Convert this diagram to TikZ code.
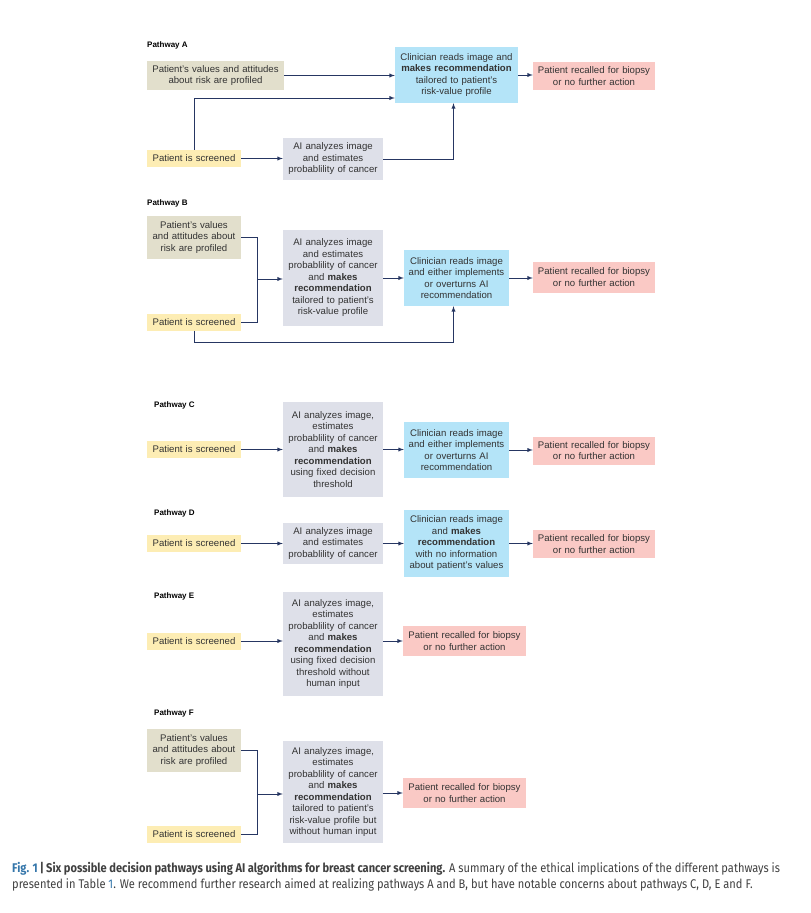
\documentclass[tikz,border=0pt]{standalone}
\usepackage{fontspec}
\setmainfont{Liberation Sans}
\newfontfamily\capfont[FakeStretch=0.88]{Fira Sans}
\usetikzlibrary{calc}
\definecolor{profilecol}{RGB}{226,223,204}
\definecolor{screencol}{RGB}{253,237,180}
\definecolor{aicol}{RGB}{222,224,233}
\definecolor{cliniccol}{RGB}{180,228,248}
\definecolor{recallcol}{RGB}{250,201,197}
\definecolor{arrowcol}{RGB}{38,54,98}
\definecolor{figblue}{RGB}{52,118,170}
\tikzset{
  box/.style={inner sep=0pt, align=center, text=black!80,
    font=\fontsize{9.6}{11.5}\selectfont},
  profile/.style 2 args={box, fill=profilecol, text width=#1, minimum height=#2},
  screen/.style 2 args={box, fill=screencol, text width=#1, minimum height=#2},
  aibox/.style 2 args={box, fill=aicol, text width=#1, minimum height=#2},
  clinic/.style 2 args={box, fill=cliniccol, text width=#1, minimum height=#2},
  recall/.style 2 args={box, fill=recallcol, text width=#1, minimum height=#2},
  lab/.style={anchor=west, inner sep=0pt, font=\fontsize{8}{9}\selectfont\bfseries},
  flow/.style={-latex, arrowcol, line width=0.85pt},
  link/.style={arrowcol, line width=0.85pt}
}
\begin{document}
\begin{tikzpicture}[x=1pt, y=-1pt]
  \fill[white] (0,0) rectangle (811,913);
  \useasboundingbox (0,0) rectangle (811,913);

  % Pathway A
  \node[lab] (labA) at (147,45) {Pathway A};
  \node[profile={137pt}{29pt}] (valA) at (215.5,75.5) {Patient's values and attitudes\\about risk are profiled};
  \node[clinic={123pt}{56pt}] (cliA) at (456.5,75) {Clinician reads image and\\\textbf{makes recommendation}\\tailored to patient's\\risk-value profile};
  \node[recall={122pt}{28pt}] (recA) at (594,76) {Patient recalled for biopsy\\or no further action};
  \node[screen={94pt}{17pt}] (scrA) at (194,158.5) {Patient is screened};
  \node[aibox={100pt}{42pt}] (aiA) at (333,159) {AI analyzes image\\and estimates\\probablility of cancer};
  \draw[flow] (valA.east) -- (valA.east -| cliA.west);
  \draw[flow] (scrA.north) |- ($(cliA.west)+(0,23)$);
  \draw[flow] (scrA.east) -- (scrA.east -| aiA.west);
  \draw[flow] (aiA.east) -| ([xshift=-3pt]cliA.south);
  \draw[flow] (cliA.east) -- (cliA.east -| recA.west);

  % Pathway B
  \node[lab] (labB) at (147,203) {Pathway B};
  \node[profile={94pt}{43pt}] (valB) at (194,237.5) {Patient's values\\and attitudes about\\risk are profiled};
  \node[aibox={100pt}{96pt}] (aiB) at (333,278) {AI analyzes image\\and estimates\\probablility of cancer\\and \textbf{makes}\\\textbf{recommendation}\\tailored to patient's\\risk-value profile};
  \node[clinic={105pt}{56pt}] (cliB) at (456.5,278) {Clinician reads image\\and either implements\\or overturns AI\\recommendation};
  \node[recall={122pt}{31pt}] (recB) at (594,277) {Patient recalled for biopsy\\or no further action};
  \node[screen={94pt}{17pt}] (scrB) at (194,322) {Patient is screened};
  \coordinate (mrgB) at (257,279);
  \draw[link] (valB.east) -| (mrgB);
  \draw[link] (scrB.east) -| (mrgB);
  \draw[flow] (mrgB) -- (mrgB -| aiB.west);
  \draw[flow] (aiB.east) -- (aiB.east -| cliB.west);
  \draw[flow] (cliB.east) -- (cliB.east -| recB.west);
  \draw[flow] (scrB.south) -- ++(0,12) -| ([xshift=-3pt]cliB.south);

  % Pathway C
  \node[lab] (labC) at (154,405) {Pathway C};
  \node[aibox={100pt}{95pt}] (aiC) at (333,449.5) {AI analyzes image,\\estimates\\probablility of cancer\\and \textbf{makes}\\\textbf{recommendation}\\using fixed decision\\threshold};
  \node[screen={94pt}{17pt}] (scrC) at (194,449.5) {Patient is screened};
  \node[clinic={105pt}{56pt}] (cliC) at (456.5,450) {Clinician reads image\\and either implements\\or overturns AI\\recommendation};
  \node[recall={122pt}{28pt}] (recC) at (594,450.5) {Patient recalled for biopsy\\or no further action};
  \draw[flow] (scrC.east) -- (scrC.east -| aiC.west);
  \draw[flow] (aiC.east) -- (aiC.east -| cliC.west);
  \draw[flow] (cliC.east) -- (cliC.east -| recC.west);

  % Pathway D
  \node[lab] (labD) at (154,513) {Pathway D};
  \node[screen={94pt}{17pt}] (scrD) at (194,543.5) {Patient is screened};
  \node[aibox={100pt}{41pt}] (aiD) at (333,543.5) {AI analyzes image\\and estimates\\probablility of cancer};
  \node[clinic={105pt}{67pt}] (cliD) at (456.5,543.5) {Clinician reads image\\and \textbf{makes}\\\textbf{recommendation}\\with no information\\about patient's values};
  \node[recall={122pt}{28pt}] (recD) at (594,544) {Patient recalled for biopsy\\or no further action};
  \draw[flow] (scrD.east) -- (scrD.east -| aiD.west);
  \draw[flow] (aiD.east) -- (aiD.east -| cliD.west);
  \draw[flow] (cliD.east) -- (cliD.east -| recD.west);

  % Pathway E
  \node[lab] (labE) at (154,596) {Pathway E};
  \node[aibox={100pt}{104pt}] (aiE) at (333,644) {AI analyzes image,\\estimates\\probablility of cancer\\and \textbf{makes}\\\textbf{recommendation}\\using fixed decision\\threshold without\\human input};
  \node[screen={94pt}{17pt}] (scrE) at (194,641) {Patient is screened};
  \node[recall={123pt}{30pt}] (recE) at (464.5,641) {Patient recalled for biopsy\\or no further action};
  \draw[flow] (scrE.east) -- (scrE.east -| aiE.west);
  \draw[flow] (recE.west -| aiE.east) -- (recE.west);

  % Pathway F
  \node[lab] (labF) at (154,713) {Pathway F};
  \node[profile={94pt}{43pt}] (valF) at (194,750.5) {Patient's values\\and attitudes about\\risk are profiled};
  \node[aibox={100pt}{102pt}] (aiF) at (333,792) {AI analyzes image,\\estimates\\probablility of cancer\\and \textbf{makes}\\\textbf{recommendation}\\tailored to patient's\\risk-value profile but\\without human input};
  \node[recall={123pt}{30pt}] (recF) at (464.5,793) {Patient recalled for biopsy\\or no further action};
  \node[screen={94pt}{17pt}] (scrF) at (194,834.5) {Patient is screened};
  \coordinate (mrgF) at (257,794);
  \draw[link] (valF.east) -| (mrgF);
  \draw[link] (scrF.east) -| (mrgF);
  \draw[flow] (mrgF) -- (mrgF -| aiF.west);
  \draw[flow] (recF.west -| aiF.east) -- (recF.west);

  % caption
  \node[anchor=north west, inner sep=0pt, align=left, text=black!75,
    font=\capfont\fontsize{12.6}{16}\selectfont] (caption) at (12,862)
    {\textcolor{figblue}{\textbf{Fig. 1}}\,\textbf{|\,Six possible decision pathways using AI algorithms for breast cancer screening.} A summary of the ethical implications of the different pathways is\\
     presented in Table~\textcolor{figblue}{1}. We recommend further research aimed at realizing pathways A and B, but have notable concerns about pathways C, D, E and F.};
\end{tikzpicture}
\end{document}
